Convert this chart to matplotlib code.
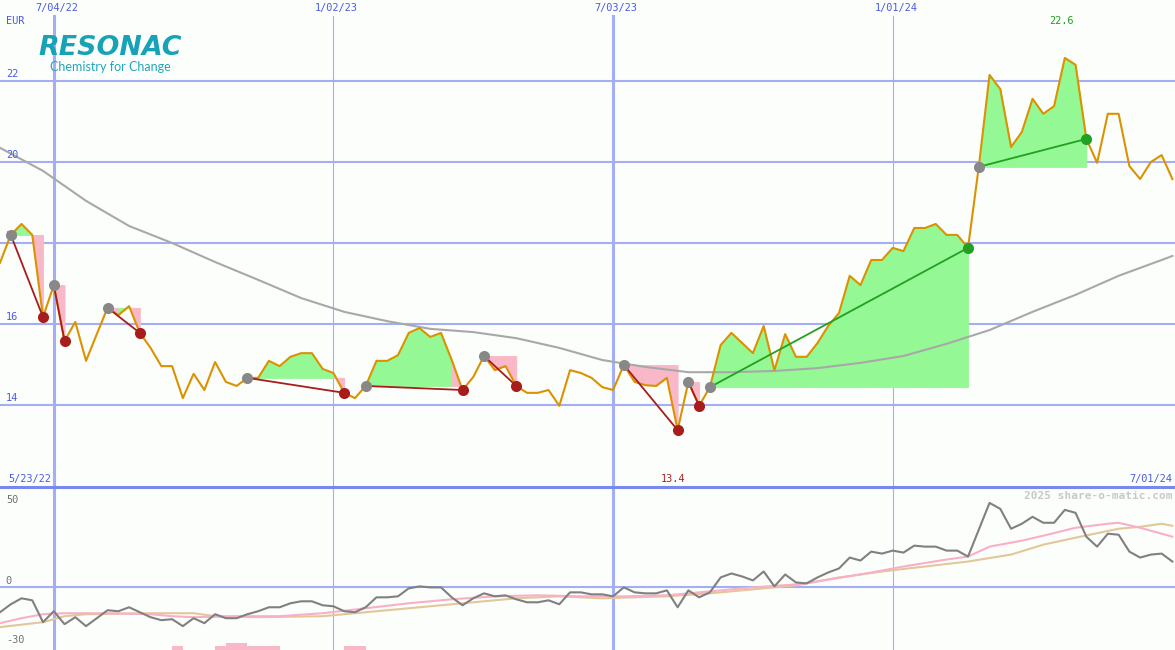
"""Resonac weekly price chart with trend markers and momentum panel."""

import matplotlib
matplotlib.use("Agg")
import matplotlib.pyplot as plt
import matplotlib.dates as mdates
import matplotlib.transforms as mtransforms
from matplotlib.lines import Line2D
import numpy as np
import pandas as pd

# weekly closes (EUR), Mondays from 5/30/22 to 7/01/24
DATES = pd.date_range("2022-05-30", periods=110, freq="7D")
PRICE = np.array([
    17.51, 18.20, 18.47, 18.20, 16.17, 16.96, 15.58, 16.05, 15.09, 15.75,
    16.40, 16.22, 16.44, 15.78, 15.41, 14.96, 14.96, 14.17, 14.77, 14.37,
    15.06, 14.57, 14.47, 14.67, 14.67, 15.09, 14.96, 15.19, 15.28, 15.28,
    14.89, 14.79, 14.30, 14.17, 14.47, 15.09, 15.09, 15.23, 15.78, 15.90,
    15.68, 15.78, 15.11, 14.37, 14.69, 15.21, 14.86, 14.96, 14.47, 14.30,
    14.30, 14.37, 13.98, 14.86, 14.79, 14.67, 14.44, 14.37, 14.99, 14.57,
    14.49, 14.47, 14.67, 13.38, 14.57, 13.98, 14.44, 15.48, 15.78, 15.53,
    15.28, 15.95, 14.86, 15.75, 15.19, 15.19, 15.53, 15.95, 16.27, 17.19,
    16.96, 17.58, 17.58, 17.88, 17.80, 18.37, 18.37, 18.47, 18.20, 18.20,
    17.88, 19.88, 22.15, 21.80, 20.37, 20.74, 21.56, 21.19, 21.38, 22.57,
    22.40, 20.57, 19.98, 21.19, 21.19, 19.90, 19.58, 20.00, 20.17, 19.58,
])

# moving average (gray line), sampled every few weeks
MA_WEEKS = [0, 4, 8, 12, 16, 20, 24, 28, 32, 36, 40, 44, 48, 52, 56, 60, 64,
            68, 72, 76, 80, 84, 88, 92, 96, 100, 104, 108, 109]
MA_VALUES = [20.35, 19.78, 19.04, 18.42, 18.00, 17.53, 17.09, 16.64, 16.30,
             16.07, 15.88, 15.80, 15.65, 15.41, 15.11, 14.94, 14.81, 14.81,
             14.84, 14.91, 15.04, 15.21, 15.51, 15.85, 16.30, 16.72, 17.19,
             17.58, 17.68]

# trend segments: (start week, end week)
TRENDS = [(1, 4), (5, 6), (10, 13), (23, 32), (34, 43), (45, 48),
          (58, 63), (64, 65), (66, 90), (91, 101)]

# lower panel
MOMENTUM = [
    -12.5, -8.5, -5.5, -6.5, -17.5, -12, -18.5, -15, -19.5, -15.5,
    -11.5, -12, -10, -12.5, -15, -16.5, -16, -19.5, -15.5, -18,
    -13.5, -15.5, -15.5, -13.5, -12, -10, -10, -8, -7, -7,
    -9, -9.5, -12, -12.5, -10, -5, -5, -4.5, -0.5, 0.5,
    0, 0, -5, -9, -5.5, -3, -4.5, -4, -6, -7.5,
    -7.5, -6.5, -8.5, -2.5, -2.5, -3.5, -3.5, -4.5, 0, -2.5,
    -3, -3, -1.5, -10, -1.5, -5, -2.5, 5, 7, 5.5,
    3.5, 8, 0.5, 6.5, 2.5, 2, 5, 7.5, 9.5, 15,
    13.5, 18, 17, 18.5, 17.5, 21, 20.5, 20.5, 18.5, 18.5,
    15.5, 29, 42.5, 39.5, 29.5, 32, 35.5, 32.5, 32.5, 39,
    37.5, 25.5, 20.5, 27, 26.5, 18, 15, 16.5, 17, 13,
]
PINK_WEEKS = [0, 2, 4, 6, 10, 14, 16, 18, 22, 26, 30, 34, 38, 42, 46, 50, 54,
              58, 62, 66, 70, 74, 76, 80, 84, 88, 90, 92, 95, 97, 100, 103,
              104, 106, 109]
PINK_VALUES = [-18, -15.5, -13.5, -13, -13, -13.5, -14.5, -15, -14.5, -14.5,
               -13, -10.5, -8, -6, -4.5, -4, -4.5, -4.5, -4, -2, 0, 1.5, 3,
               6.5, 10.5, 14, 15.5, 20.5, 23.5, 26, 30, 32, 32.5, 30, 25.5]
TAN_WEEKS = [0, 4, 6, 8, 14, 18, 20, 24, 30, 33, 36, 40, 44, 48, 52, 56, 62,
             66, 70, 74, 78, 82, 86, 90, 94, 97, 100, 104, 106, 108, 109]
TAN_VALUES = [-20, -17.5, -14.5, -13.5, -13, -13, -14.5, -15, -14.5, -13,
              -11.5, -9.5, -7.5, -5.5, -4.5, -5.5, -4.5, -3, -1, 1, 5, 8,
              10.5, 13, 16.5, 21.5, 25, 29.5, 30.5, 32, 31]
BAR_WEEKS = [16, 20, 21, 22, 23, 24, 25, 32, 33]
BAR_TOPS = [-29.5, -29.5, -28, -28, -29.5, -29.5, -29.5, -29.5, -29.5]

MAIN_TICKS = [14, 16, 18, 20, 22]
LOW_TICKS = [50, 0, -30]
VLINES = ["2022-07-04", "2023-01-02", "2023-07-03", "2024-01-01"]
VLABELS = ["7/04/22", "1/02/23", "7/03/23", "1/01/24"]

BG = "#fcfefc"
GRID = "#a4aef4"
BLUE_TXT = "#4a5ae6"
GREEN_FILL = "#94f894"
PINK_FILL = "#f8b8c8"
ORANGE = "#dc9200"
MONO = "DejaVu Sans Mono"
FS = 7.4

fig = plt.figure(figsize=(11.75, 6.5), dpi=100, facecolor=BG)
ax = fig.add_axes([0, 163 / 650, 1, 487 / 650])
ax2 = fig.add_axes([0, 0, 1, 163 / 650], sharex=ax)
for a in (ax, ax2):
    a.set_facecolor(BG)
    for s in a.spines.values():
        s.set_visible(False)
    a.tick_params(left=False, bottom=False, labelleft=False, labelbottom=False)

x0 = mdates.date2num(DATES[0])
x1 = mdates.date2num(DATES[-1]) + 1.7
ax.set_xlim(x0, x1)
ax.set_ylim(11.975, 24.0)
ax2.set_ylim(-31.5, 50.5)

# grid
for d in VLINES:
    thick = pd.Timestamp(d).month == 7
    lw = 2.2 if thick else 0.8
    ax.axvline(pd.Timestamp(d), ymax=0.967, color=GRID, lw=lw, zorder=0)
    ax2.axvline(pd.Timestamp(d), color=GRID, lw=lw, zorder=0)
for v in MAIN_TICKS:
    ax.axhline(v, color=GRID, lw=1.5, zorder=0)
ax2.axhline(0, color=GRID, lw=1.5, zorder=0)

# trend fills
for s, e in TRENDS:
    base = PRICE[s]
    for k in range(s, e):
        c = GREEN_FILL if PRICE[k + 1] >= base else PINK_FILL
        ax.fill_between(DATES[k:k + 2], PRICE[k:k + 2], base, color=c,
                        lw=0.6, edgecolor=c, zorder=1)

ax.plot(DATES[MA_WEEKS], MA_VALUES, color="#a8a8a8", lw=1.5, zorder=2)
ax.plot(DATES, PRICE, color=ORANGE, lw=1.5, zorder=4)

for s, e in TRENDS:
    up = PRICE[e] >= PRICE[s]
    col = "#22a022" if up else "#a81c1c"
    ax.plot([DATES[s], DATES[e]], [PRICE[s], PRICE[e]], color=col, lw=1.3, zorder=5)
    ax.plot(DATES[s], PRICE[s], "o", color="#888888", ms=8, mec="none", zorder=6)
    ax.plot(DATES[e], PRICE[e], "o", color=col, ms=8, mec="none", zorder=6)

# labels main panel
ytrans = mtransforms.blended_transform_factory(ax.transAxes, ax.transData)
for v in MAIN_TICKS:
    ax.annotate(str(v), (0.005, v), xycoords=ytrans, xytext=(0, 1.2),
                textcoords="offset points", fontsize=FS, family=MONO,
                color=BLUE_TXT, va="bottom", ha="left", zorder=3)
xtrans = mtransforms.blended_transform_factory(ax.transData, ax.transAxes)
for d, lab in zip(VLINES, VLABELS):
    ax.text(pd.Timestamp(d) + pd.Timedelta(days=2), 0.984, lab, transform=xtrans,
            fontsize=FS, family=MONO, color=BLUE_TXT, ha="center", va="center")
ax.text(0.005, 0.957, "EUR", transform=ax.transAxes, fontsize=FS, family=MONO,
        color=BLUE_TXT, ha="left", va="center")
ax.text(0.007, 0.0164, "5/23/22", transform=ax.transAxes, fontsize=FS,
        family=MONO, color=BLUE_TXT, ha="left", va="center")
ax.text(0.9975, 0.0164, "7/01/24", transform=ax.transAxes, fontsize=FS,
        family=MONO, color=BLUE_TXT, ha="right", va="center")

lo, hi = PRICE.argmin(), PRICE.argmax()
ax.text(DATES[lo] - pd.Timedelta(days=3), 0.0164, f"{PRICE[lo]:.1f}",
        transform=xtrans, fontsize=FS, family=MONO, color="#b02020",
        ha="center", va="center")
ax.text(DATES[hi] - pd.Timedelta(days=2), 0.957, f"{PRICE[hi]:.1f}",
        transform=xtrans, fontsize=FS, family=MONO, color="#22a022",
        ha="center", va="center")

# logo
ax.text(38 / 1175, (487 - 55) / 487, "RESONAC", transform=ax.transAxes,
        fontsize=19.4, fontweight="bold", style="italic", color="#17a2b6",
        ha="left", va="baseline", family="DejaVu Sans")
ax.text(50 / 1175, (487 - 71) / 487, "Chemistry for Change",
        transform=ax.transAxes, fontsize=9, color="#22a6b8", ha="left",
        va="baseline", family="Lato")

# lower panel
ax2.bar(DATES[BAR_WEEKS], np.array(BAR_TOPS) + 31.5, bottom=-31.5, width=7,
        align="edge", color=PINK_FILL, lw=0, zorder=1)
ax2.plot(DATES[TAN_WEEKS], TAN_VALUES, color="#e2c898", lw=1.5, zorder=2)
ax2.plot(DATES[PINK_WEEKS], PINK_VALUES, color="#f8b0c8", lw=1.5, zorder=2)
ax2.plot(DATES, MOMENTUM, color="#808080", lw=1.5, zorder=3)

ytrans2 = mtransforms.blended_transform_factory(ax2.transAxes, ax2.transData)
for v, off in zip(LOW_TICKS, (-5, 1.2, 1.2)):
    ax2.annotate(str(v), (0.005, v), xycoords=ytrans2, xytext=(0, off),
                 textcoords="offset points", fontsize=FS, family=MONO,
                 color="#707070", va="bottom" if off > 0 else "top", ha="left")
ax2.text(0.9975, 0.945, "2025 share-o-matic.com", transform=ax2.transAxes,
         fontsize=8, family=MONO, fontweight="bold", color="#c8c8c8",
         ha="right", va="center")

fig.add_artist(Line2D([0, 1], [163 / 650, 163 / 650], transform=fig.transFigure,
                      color="#7888ee", lw=2.2))

fig.savefig("out.png", dpi=100, facecolor=BG)
